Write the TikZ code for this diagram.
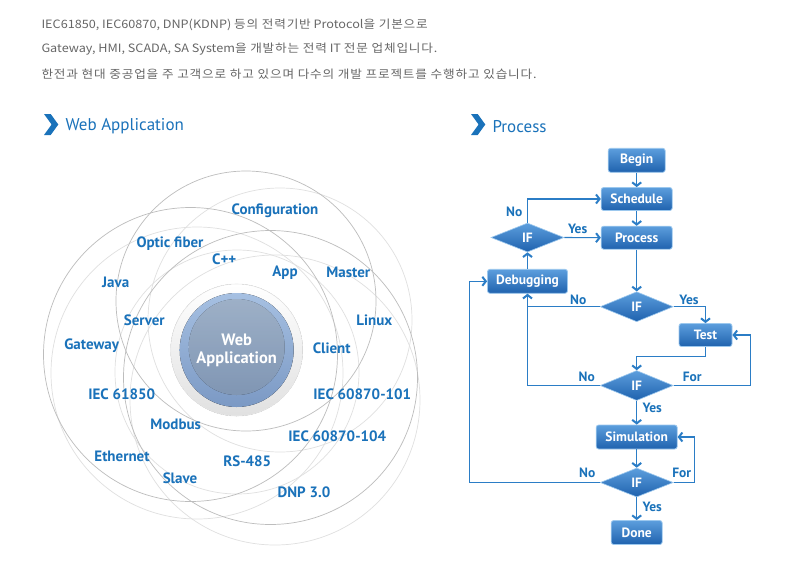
\documentclass[tikz,border=0pt]{standalone}
\usepackage{fontspec}
\setmainfont{PT Sans}
\newfontfamily\kr[FakeStretch=1.1]{Noto Sans CJK KR}
\newfontfamily\krw[FakeStretch=1.1,LetterSpace=7]{Noto Sans CJK KR}
\usetikzlibrary{shapes.geometric,arrows.meta}
\definecolor{lblue}{HTML}{1A72BA}
\definecolor{lnblue}{HTML}{2B7DC6}
\definecolor{boxtop}{HTML}{5C9EDD}
\definecolor{boxbot}{HTML}{1F62AE}
\definecolor{boxedge}{HTML}{9CC8EE}
\definecolor{txtgray}{HTML}{666666}
\definecolor{cdark}{HTML}{BDBDBD}
\definecolor{clight}{HTML}{E0E0E0}
\definecolor{sphtop}{HTML}{A6C0E2}
\definecolor{sphbot}{HTML}{7B99C4}
\definecolor{sphintop}{HTML}{BDD3EE}
\definecolor{sphinbot}{HTML}{9AB4D7}
\tikzset{
  lbl/.style={font=\bfseries\fontsize{15}{15}\selectfont, text=lblue},
  flbl/.style={font=\bfseries\fontsize{13.5}{13.5}\selectfont, text=lblue},
  fbox/.style={rectangle, rounded corners=2.5pt, draw=boxedge, line width=0.8pt,
    top color=boxtop, bottom color=boxbot, text=white, inner sep=0pt,
    font=\bfseries\fontsize{13.5}{13.5}\selectfont},
  fdia/.style={diamond, aspect=2.5, draw=boxedge, line width=0.6pt,
    top color=boxtop, bottom color=boxbot, text=white, inner sep=0pt,
    minimum width=73pt, minimum height=29pt, font=\bfseries\fontsize{13.5}{13.5}\selectfont},
  conn/.style={draw=lnblue, line width=1.1pt},
  arr/.style={conn, -{Straight Barb[length=3.5pt,width=9pt,line width=2pt]}},
  head/.style={font=\fontsize{17}{17}\selectfont, text=lblue, anchor=west},
  chev/.style={fill=lblue},
  topline/.style={font=\kr\fontsize{11.5}{11.5}\selectfont, text=txtgray, anchor=west},
  darkc/.style={draw=cdark, line width=0.7pt},
  lightc/.style={draw=clight, line width=0.7pt}
}
\begin{document}
\begin{tikzpicture}[x=1pt,y=-1pt]
\useasboundingbox (0,0) rectangle (796,582);
\fill[white] (0,0) rectangle (796,582);
% top text
\node[topline] (t1) at (38,25) {IEC61850, IEC60870, DNP(KDNP) {\krw 등의 전력기반} Protocol{\krw 을 기본으로}};
\node[topline] (t2) at (38,49) {Gateway, HMI, SCADA, SA System{\krw 을 개발하는 전력} IT {\krw 전문 업체입니다.}};
\node[topline] (t3) at (38,74) {\krw 한전과 현대 중공업을 주 고객으로 하고 있으며 다수의 개발 프로젝트를 수행하고 있습니다.};
% headings
\fill[chev] (44,114) -- (50.7,114) -- (58.3,124.5) -- (50.7,135) -- (44,135) -- (51.6,124.5) -- cycle;
\node[head] (h1) at (62,126.5) {Web Application};
\fill[chev] (471,114) -- (477.7,114) -- (485.3,124.5) -- (477.7,135) -- (471,135) -- (478.6,124.5) -- cycle;
\node[head] (h2) at (489,126.5) {Process};
% circles
\draw[lightc] (280,320) circle (132);
\draw[lightc] (197,373) circle (146);
\draw[lightc] (275,400) circle (145);
\draw[lightc] (237,372) circle (122);
\draw[darkc] (190.5,354.5) circle (147);
\draw[darkc] (246,301) circle (130);
\draw[darkc] (270.5,377.5) circle (147);
% sphere
\fill[top color=white, bottom color=black!12] (236.7,350) circle (66);
\draw[black!8, line width=0.6pt] (236.7,350) circle (66);
\fill[top color=sphtop, bottom color=sphbot] (236.7,350) circle (57);
\fill[top color=sphintop, bottom color=sphinbot, opacity=0.8] (236.7,347) circle (48);
\node[font=\bfseries\fontsize{16.5}{18}\selectfont, text=white, align=center] (web) at (236.7,350) {Web\\Application};
% labels
\node[lbl] (l1) at (275,211) {Configuration};
\node[lbl] (l2) at (170,244) {Optic fiber};
\node[lbl] (l3) at (224.3,259.3) {C++};
\node[lbl] (l4) at (285,272.7) {App};
\node[lbl] (l5) at (348.3,272) {Master};
\node[lbl] (l6) at (115.7,282) {Java};
\node[lbl] (l7) at (144.3,320) {Server};
\node[lbl] (l8) at (374.3,320) {Linux};
\node[lbl] (l9) at (91.7,346) {Gateway};
\node[lbl] (l10) at (331.7,348.7) {Client};
\node[lbl] (l11) at (121.7,394.7) {IEC 61850};
\node[lbl] (l12) at (362.3,394) {IEC 60870-101};
\node[lbl] (l13) at (175.7,424.7) {Modbus};
\node[lbl] (l14) at (337.3,436) {IEC 60870-104};
\node[lbl] (l15) at (122,456) {Ethernet};
\node[lbl] (l16) at (247.3,461) {RS-485};
\node[lbl] (l17) at (180,478) {Slave};
\node[lbl] (l18) at (304,492) {DNP 3.0};
% flowchart
\node[fbox, minimum width=57pt, minimum height=24pt] (begin) at (636.7,160.3) {Begin};
\node[fbox, minimum width=71pt, minimum height=23pt] (sched) at (636.7,199) {Schedule};
\node[fbox, minimum width=71pt, minimum height=23pt] (proc) at (636.7,237.7) {Process};
\node[fdia] (if1) at (527.5,237.5) {IF};
\node[fbox, minimum width=80pt, minimum height=24pt] (debug) at (527.5,281.3) {Debugging};
\node[fdia, minimum height=30pt] (if2) at (636.7,306.7) {IF};
\node[fbox, minimum width=53pt, minimum height=23pt] (test) at (705.5,335) {Test};
\node[fdia, minimum height=30pt] (if3) at (636.7,385.5) {IF};
\node[fbox, minimum width=81pt, minimum height=24pt] (sim) at (636.7,437) {Simulation};
\node[fdia] (if4) at (636.7,482.5) {IF};
\node[fbox, minimum width=51pt, minimum height=24pt] (done) at (636.7,532.5) {Done};
\coordinate (djoin) at (if2.west -| debug.south);
\draw[arr] (begin) -- (sched);
\draw[arr] (sched) -- (proc);
\draw[arr] (if1.north) |- (sched.west);
\draw[arr] (if1.east) -- (proc.west);
\draw[arr] (debug.north) -- (if1.south);
\draw[arr] (proc.south) -- (if2.north);
\draw[arr] (if2.west) -| (debug.south);
\draw[arr] (if2.east) -| (test.north);
\draw[arr] (test.south) -- ++(0,10) -| (if3.north);
\draw[conn] (if3.west) -| (djoin);
\draw[arr] (if3.east) -- ++(77,0) |- (test.east);
\draw[arr] (if3.south) -- (sim.north);
\draw[arr] (sim.south) -- (if4.north);
\draw[arr] (if4.east) -- ++(21,0) |- (sim.east);
\draw[arr] (if4.west) -- ++(-130,0) |- (debug.west);
\draw[arr] (if4.south) -- (done.north);
\node[flbl] (n1) at (514.3,211.7) {No};
\node[flbl] (y1) at (577.7,229.3) {Yes};
\node[flbl] (n2) at (578.3,300) {No};
\node[flbl] (y2) at (689,300) {Yes};
\node[flbl] (n3) at (586.7,377) {No};
\node[flbl] (f3) at (692.3,377) {For};
\node[flbl] (y3) at (652.3,408.3) {Yes};
\node[flbl] (n4) at (587.3,473.3) {No};
\node[flbl] (f4) at (681.7,473.3) {For};
\node[flbl] (y4) at (652.3,506.7) {Yes};
\end{tikzpicture}
\end{document}
